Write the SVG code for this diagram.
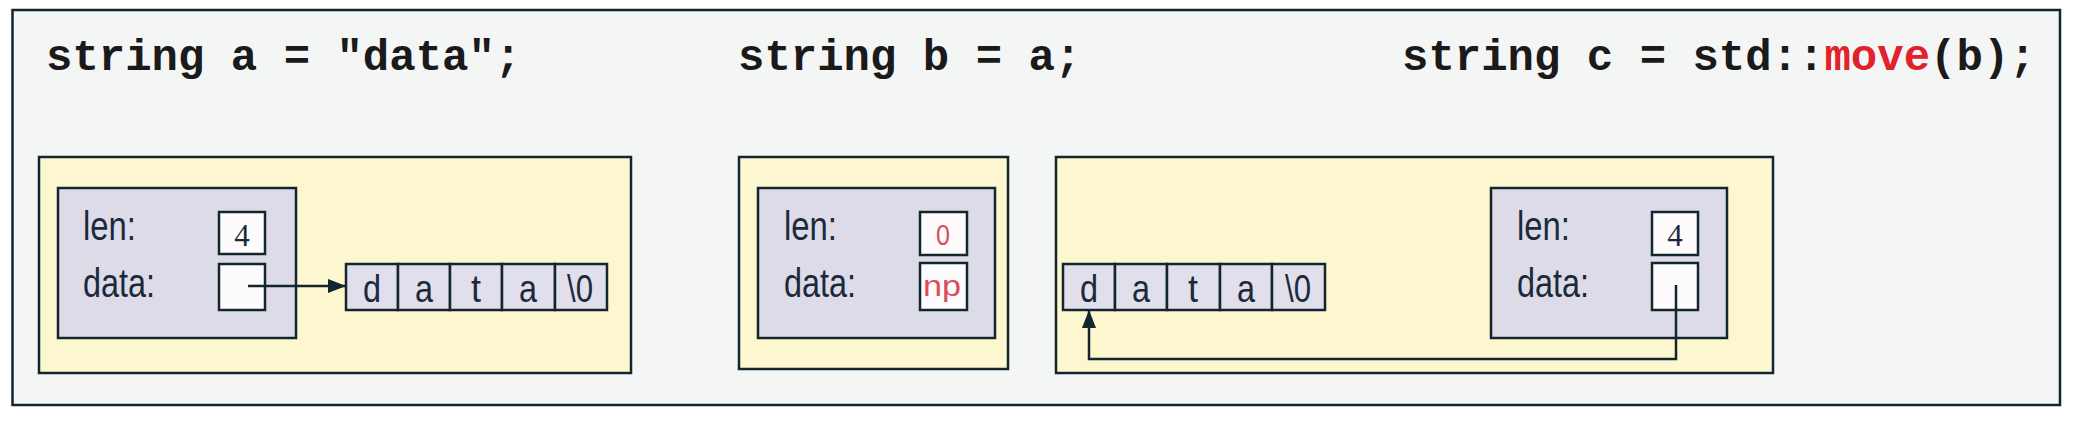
<svg xmlns="http://www.w3.org/2000/svg" width="2075" height="421" viewBox="0 0 2075 421">
<defs>
<style>
.frame{fill:#f4f5f5;stroke:#13252d;stroke-width:2.5}
.scope{fill:#fdf7d0;stroke:#13252d;stroke-width:2.5}
.obj{fill:#dedbe9;stroke:#13252d;stroke-width:2.5}
.val{fill:#fdfbfb;stroke:#13252d;stroke-width:2.5}
.cell{fill:#e2dfec;stroke:#13252d;stroke-width:2.5}
.code{font-family:"Liberation Mono","Courier New",monospace;font-weight:bold;font-size:44px;fill:#1a1a1a}
.kw{fill:#e0222c}
.lbl{font-family:"Liberation Sans",Arial,sans-serif;font-size:40px;fill:#1b2a3a}
.ch{font-family:"Liberation Sans",Arial,sans-serif;font-size:38px;fill:#1b2a3a;text-anchor:middle}
.num{font-family:"Liberation Serif","Times New Roman",serif;font-size:31px;fill:#1b2a3a;text-anchor:middle}
.red{font-family:"Liberation Sans",Arial,sans-serif;font-size:29px;fill:#dc4d5a;text-anchor:middle}
.conn{fill:none;stroke:#13252d;stroke-width:2.5}
</style>
<marker id="arr" markerUnits="userSpaceOnUse" markerWidth="18" markerHeight="14" refX="17" refY="7" orient="auto">
<path d="M0,0 L18,7 L0,14 Z" fill="#13252d"/>
</marker>
</defs>
<rect width="2075" height="421" fill="#ffffff"/>
<rect id="frame" class="frame" x="12.5" y="10" width="2047.5" height="395"/>
<g id="code">
<text class="code" x="46" y="70">string a = "data";</text>
<text class="code" x="738" y="70">string b = a;</text>
<text class="code" x="1402" y="70">string c = std::<tspan class="kw">move</tspan>(b);</text>
</g>
<g id="scopeA">
<rect class="scope" x="39" y="157" width="592" height="216"/>
</g>
<g id="objA">
<rect class="obj" x="58" y="188" width="238" height="150"/>
<text class="lbl" x="83" y="240" textLength="53" lengthAdjust="spacingAndGlyphs">len:</text>
<text class="lbl" x="83" y="297" textLength="72" lengthAdjust="spacingAndGlyphs">data:</text>
<rect class="val" x="219" y="212" width="46" height="42"/>
<text class="num" x="242" y="246">4</text>
<rect class="val" x="219" y="264" width="46" height="46"/>
</g>
<g id="arrA">
<rect class="cell" x="346" y="264" width="52" height="46"/>
<rect class="cell" x="398" y="264" width="52" height="46"/>
<rect class="cell" x="450" y="264" width="52" height="46"/>
<rect class="cell" x="502" y="264" width="53" height="46"/>
<rect class="cell" x="555" y="264" width="52" height="46"/>
<text class="ch" x="372" y="302" textLength="18" lengthAdjust="spacingAndGlyphs">d</text>
<text class="ch" x="424" y="302" textLength="18" lengthAdjust="spacingAndGlyphs">a</text>
<text class="ch" x="476" y="302" textLength="10" lengthAdjust="spacingAndGlyphs">t</text>
<text class="ch" x="528" y="302" textLength="18" lengthAdjust="spacingAndGlyphs">a</text>
<text class="ch" x="580" y="302" textLength="26" lengthAdjust="spacingAndGlyphs">\0</text>
</g>
<g id="scopeB">
<rect class="scope" x="739" y="157" width="269" height="212"/>
</g>
<g id="objB">
<rect class="obj" x="758" y="188" width="237" height="150"/>
<text class="lbl" x="784" y="240" textLength="53" lengthAdjust="spacingAndGlyphs">len:</text>
<text class="lbl" x="784" y="297" textLength="72" lengthAdjust="spacingAndGlyphs">data:</text>
<rect class="val" x="920" y="212" width="47" height="43"/>
<text class="red" x="943" y="245" textLength="14" lengthAdjust="spacingAndGlyphs">0</text>
<rect class="val" x="920" y="263" width="47" height="47"/>
<text class="red" x="942" y="296" textLength="38" lengthAdjust="spacingAndGlyphs">np</text>
</g>
<g id="scopeC">
<rect class="scope" x="1056" y="157" width="717" height="216"/>
</g>
<g id="arrC">
<rect class="cell" x="1063" y="264" width="52" height="46"/>
<rect class="cell" x="1115" y="264" width="52" height="46"/>
<rect class="cell" x="1167" y="264" width="53" height="46"/>
<rect class="cell" x="1220" y="264" width="52" height="46"/>
<rect class="cell" x="1272" y="264" width="53" height="46"/>
<text class="ch" x="1089" y="302" textLength="18" lengthAdjust="spacingAndGlyphs">d</text>
<text class="ch" x="1141" y="302" textLength="18" lengthAdjust="spacingAndGlyphs">a</text>
<text class="ch" x="1193" y="302" textLength="10" lengthAdjust="spacingAndGlyphs">t</text>
<text class="ch" x="1246" y="302" textLength="18" lengthAdjust="spacingAndGlyphs">a</text>
<text class="ch" x="1298" y="302" textLength="26" lengthAdjust="spacingAndGlyphs">\0</text>
</g>
<g id="objC">
<rect class="obj" x="1491" y="188" width="236" height="150"/>
<text class="lbl" x="1517" y="240" textLength="53" lengthAdjust="spacingAndGlyphs">len:</text>
<text class="lbl" x="1517" y="297" textLength="72" lengthAdjust="spacingAndGlyphs">data:</text>
<rect class="val" x="1652" y="212" width="46" height="43"/>
<text class="num" x="1675" y="246">4</text>
<rect class="val" x="1652" y="263" width="46" height="47"/>
</g>
<g id="connectors">
<line class="conn" x1="248" y1="286" x2="345" y2="286" marker-end="url(#arr)"/>
<polyline class="conn" points="1676,285 1676,359 1089,359 1089,311" marker-end="url(#arr)"/>
</g>
</svg>
